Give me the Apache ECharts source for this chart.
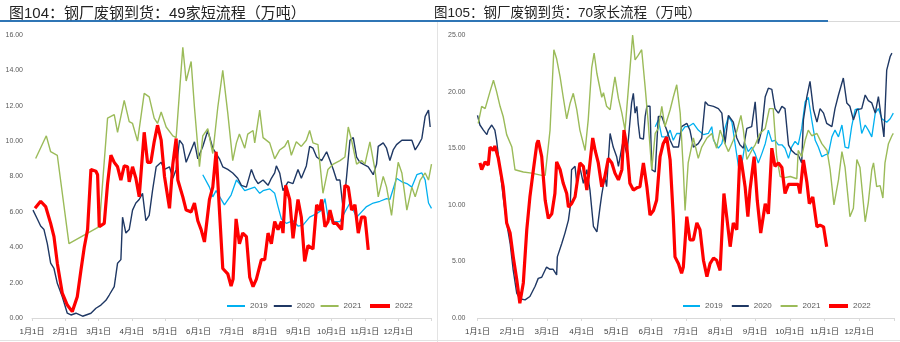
<!DOCTYPE html>
<html>
<head>
<meta charset="utf-8">
<script src="https://cdn.jsdelivr.net/npm/echarts@6/dist/echarts.min.js"></script>
<style>
html,body{margin:0;padding:0;background:#fff;}
#c{width:900px;height:342px;}
</style>
</head>
<body>
<div id="c"></div>
<script>
// x values are fractional months since Jan 1 (0 = 1月1日, 1 = 2月1日, ...)
const monthLabels = ['1月1日','2月1日','3月1日','4月1日','5月1日','6月1日','7月1日','8月1日','9月1日','10月1日','11月1日','12月1日'];
const seriesNames = ['2019','2020','2021','2022'];
const leftTicks = [0,2,4,6,8,10,12,14,16];
const rightTicks = [0,5,10,15,20,25];
const titleLeft = '图104：钢厂废钢到货：49家短流程（万吨）';
const titleRight = '图105：钢厂废钢到货：70家长流程（万吨）';

// ---- Left: 49 short-process mills ----
const left2019 = [[5.13,8.1],[5.33,7.4],[5.43,6.85],[5.53,7.2],[5.78,6.4],[5.98,6.95],[6.14,7.8],[6.23,7.6],[6.39,7.2],[6.54,7.3],[6.69,7.4],[6.84,7.05],[6.94,7.2],[7.14,7.3],[7.29,7.05],[7.39,6.3],[7.49,5.6],[7.64,5.35],[7.84,5.5],[7.99,5.2],[8.14,5.25],[8.34,5.7],[8.55,5.9],[8.70,6.1],[8.80,6.75],[8.89,5.7],[9.05,5.45],[9.25,5.45],[9.40,6.0],[9.55,6.5],[9.75,5.7],[9.90,6.0],[10.05,6.3],[10.25,6.5],[10.45,6.6],[10.65,6.75],[10.75,6.7],[10.95,7.9],[11.11,7.7],[11.26,7.6],[11.41,7.4],[11.56,8.1],[11.71,8.2],[11.81,7.8],[11.91,6.5],[12.0,6.2]];
const left2020 = [[0.03,6.1],[0.16,5.6],[0.26,5.2],[0.36,5.0],[0.46,4.2],[0.56,3.1],[0.66,2.8],[0.76,1.96],[0.91,1.2],[1.06,0.27],[1.17,0.17],[1.32,0.27],[1.52,0.1],[1.77,0.27],[1.92,0.55],[2.07,0.73],[2.22,1.0],[2.32,1.3],[2.47,1.77],[2.57,3.1],[2.67,3.3],[2.72,5.7],[2.82,4.8],[2.92,5.0],[3.02,6.1],[3.12,6.5],[3.22,6.7],[3.32,7.05],[3.42,5.5],[3.52,5.8],[3.62,7.2],[3.73,8.55],[3.88,8.8],[3.98,8.4],[4.13,8.55],[4.23,7.9],[4.33,8.4],[4.43,10.05],[4.53,9.8],[4.63,8.8],[4.78,9.5],[4.88,9.96],[4.98,9.0],[5.13,9.7],[5.28,10.6],[5.43,9.6],[5.63,9.0],[5.73,8.55],[5.88,8.4],[6.03,8.2],[6.18,7.9],[6.29,7.5],[6.44,7.4],[6.59,8.4],[6.69,7.9],[6.79,7.6],[6.94,7.8],[7.09,7.5],[7.19,7.9],[7.29,8.2],[7.34,8.6],[7.44,8.2],[7.54,7.2],[7.69,7.7],[7.84,7.6],[7.99,8.4],[8.09,7.9],[8.24,8.6],[8.34,9.7],[8.44,9.6],[8.55,9.1],[8.70,8.9],[8.85,9.4],[8.95,8.9],[9.05,8.4],[9.15,7.8],[9.25,7.8],[9.35,6.1],[9.45,8.0],[9.55,10.05],[9.65,10.2],[9.75,9.1],[9.85,8.8],[9.95,8.7],[10.10,8.55],[10.25,8.1],[10.35,8.7],[10.40,9.7],[10.55,9.9],[10.65,9.6],[10.75,8.9],[10.85,9.5],[10.95,9.8],[11.11,10.05],[11.26,10.05],[11.41,10.05],[11.51,9.5],[11.61,9.8],[11.71,10.15],[11.81,11.4],[11.91,11.75],[11.96,10.8]];
const left2021 = [[0.11,9.02],[0.43,10.3],[0.56,9.4],[0.76,9.2],[1.11,4.2],[2.02,5.16],[2.27,11.3],[2.47,11.5],[2.57,10.5],[2.77,12.3],[2.92,11.1],[3.02,11.0],[3.17,10.0],[3.37,12.7],[3.52,12.5],[3.67,11.3],[3.77,11.0],[3.88,11.65],[4.03,10.8],[4.23,10.3],[4.33,10.2],[4.53,15.3],[4.63,13.4],[4.78,14.5],[4.88,11.9],[5.03,8.55],[5.13,10.3],[5.28,10.7],[5.43,9.3],[5.58,11.9],[5.73,14.0],[5.88,11.6],[6.03,8.9],[6.14,9.9],[6.23,10.4],[6.39,9.6],[6.48,10.4],[6.64,10.6],[6.69,9.9],[6.84,11.75],[6.94,10.2],[7.14,9.9],[7.29,9.0],[7.44,9.5],[7.59,9.7],[7.69,10.05],[7.79,9.2],[7.94,9.96],[8.09,9.7],[8.24,10.05],[8.34,10.6],[8.44,9.9],[8.59,9.8],[8.74,7.05],[8.89,8.4],[9.05,8.7],[9.25,8.9],[9.40,9.1],[9.50,10.8],[9.60,10.05],[9.75,8.7],[9.90,8.9],[10.0,8.7],[10.15,9.96],[10.30,8.4],[10.40,6.85],[10.55,8.0],[10.65,7.4],[10.80,5.8],[10.90,7.4],[11.0,8.8],[11.11,8.2],[11.26,6.1],[11.41,7.4],[11.51,6.85],[11.66,7.8],[11.81,8.2],[11.91,7.8],[12.0,8.7]];
const left2022 = [[0.09,6.2],[0.26,6.6],[0.41,6.3],[0.56,5.35],[0.66,4.6],[0.76,3.1],[0.91,1.4],[1.06,0.73],[1.21,0.36],[1.36,1.2],[1.47,2.7],[1.57,4.0],[1.67,5.0],[1.77,8.4],[1.92,8.3],[1.97,8.1],[2.02,5.16],[2.17,5.35],[2.27,7.6],[2.37,9.2],[2.47,8.8],[2.57,8.55],[2.67,7.8],[2.77,8.6],[2.87,8.55],[2.92,7.7],[3.02,8.55],[3.12,7.9],[3.22,6.85],[3.37,10.5],[3.47,8.8],[3.57,8.8],[3.67,9.96],[3.77,10.9],[3.88,10.05],[3.98,8.0],[4.13,6.2],[4.23,8.7],[4.33,10.15],[4.38,7.8],[4.53,6.85],[4.63,6.1],[4.78,6.0],[4.88,6.5],[4.98,5.5],[5.08,5.0],[5.18,4.3],[5.33,6.7],[5.43,7.4],[5.53,9.4],[5.63,6.1],[5.73,2.8],[5.88,2.5],[5.98,1.8],[6.04,2.2],[6.13,5.6],[6.23,4.2],[6.33,4.8],[6.44,4.6],[6.54,2.3],[6.64,1.77],[6.74,2.2],[6.89,3.3],[6.99,3.3],[7.09,4.8],[7.19,4.2],[7.29,5.45],[7.39,5.0],[7.49,5.45],[7.54,4.8],[7.62,7.5],[7.74,6.7],[7.84,4.5],[7.99,6.7],[8.09,5.7],[8.19,3.2],[8.29,4.1],[8.44,3.9],[8.55,6.4],[8.64,6.1],[8.70,6.7],[8.80,5.16],[8.89,5.45],[8.95,6.1],[9.05,5.35],[9.15,5.35],[9.30,5.0],[9.40,7.5],[9.50,7.4],[9.60,6.1],[9.70,6.4],[9.80,4.8],[9.90,5.7],[10.0,5.7],[10.05,4.8],[10.10,3.85]];

// ---- Right: 70 long-process mills ----
const right2019 = [[5.12,16.9],[5.21,17.5],[5.31,16.0],[5.45,16.0],[5.55,16.6],[5.64,15.7],[5.74,16.3],[5.84,16.3],[5.98,16.9],[6.07,16.9],[6.22,17.2],[6.36,16.6],[6.51,16.2],[6.65,16.3],[6.75,16.9],[6.80,15.7],[6.94,15.0],[7.04,15.4],[7.13,16.75],[7.23,17.8],[7.33,17.3],[7.42,15.4],[7.52,13.4],[7.61,13.5],[7.71,15.4],[7.80,14.7],[7.90,15.1],[8.00,14.5],[8.09,13.7],[8.19,14.5],[8.29,15.4],[8.38,16.6],[8.48,15.6],[8.57,15.7],[8.67,15.3],[8.77,15.3],[8.86,15.0],[8.96,14.1],[9.05,15.1],[9.15,15.6],[9.24,15.3],[9.34,16.75],[9.44,19.1],[9.53,19.5],[9.63,17.5],[9.73,15.7],[9.82,15.1],[9.92,14.25],[10.01,14.4],[10.11,14.5],[10.21,16.0],[10.30,16.6],[10.40,16.0],[10.50,17.05],[10.59,15.1],[10.69,15.0],[10.78,16.9],[10.88,18.4],[10.97,18.5],[11.07,16.3],[11.17,17.05],[11.26,16.6],[11.36,16.0],[11.46,18.1],[11.55,18.5],[11.65,17.6],[11.79,17.3],[11.89,17.6],[11.98,18.1]];
const right2020 = [[0.0,17.9],[0.07,17.05],[0.17,16.6],[0.27,16.2],[0.31,16.6],[0.41,17.05],[0.50,16.6],[0.55,15.7],[0.65,13.1],[0.74,10.7],[0.84,8.4],[0.94,6.6],[1.03,4.2],[1.13,2.2],[1.22,1.7],[1.37,1.6],[1.51,1.9],[1.66,2.8],[1.75,3.5],[1.85,3.6],[1.99,4.5],[2.09,4.3],[2.18,4.3],[2.28,3.8],[2.30,5.4],[2.43,6.6],[2.52,7.5],[2.62,8.65],[2.67,9.8],[2.71,13.1],[2.81,13.4],[2.86,11.9],[2.95,13.3],[3.05,11.9],[3.15,13.1],[3.24,11.3],[3.34,8.1],[3.44,7.6],[3.53,9.8],[3.58,10.9],[3.67,12.5],[3.72,11.6],[3.82,16.3],[3.91,15.1],[4.01,14.25],[4.06,13.4],[4.16,15.1],[4.20,15.7],[4.30,14.5],[4.35,15.9],[4.44,19.0],[4.49,19.85],[4.54,18.1],[4.59,18.7],[4.63,17.2],[4.68,15.9],[4.78,15.8],[4.83,17.8],[4.88,18.7],[4.97,18.7],[5.02,13.1],[5.12,12.9],[5.21,17.8],[5.31,17.8],[5.45,16.6],[5.55,15.7],[5.64,15.1],[5.79,15.1],[5.88,16.9],[6.03,17.2],[6.12,16.6],[6.22,15.1],[6.36,15.4],[6.46,15.9],[6.56,19.1],[6.65,18.8],[6.80,18.7],[6.94,18.5],[7.04,18.1],[7.13,15.4],[7.23,17.9],[7.37,17.3],[7.47,15.9],[7.56,15.3],[7.66,15.0],[7.76,16.75],[7.90,16.9],[8.00,19.1],[8.09,15.4],[8.19,16.6],[8.29,19.55],[8.38,20.3],[8.48,20.2],[8.57,18.5],[8.67,18.1],[8.77,18.7],[8.86,18.5],[8.96,15.3],[9.05,14.8],[9.15,14.5],[9.24,14.4],[9.34,13.7],[9.39,17.5],[9.49,19.55],[9.58,20.9],[9.68,18.4],[9.78,17.3],[9.87,18.5],[9.97,18.1],[10.06,17.2],[10.21,16.9],[10.30,18.5],[10.40,19.7],[10.54,21.2],[10.64,19.0],[10.73,18.7],[10.83,17.5],[10.93,18.4],[11.07,18.5],[11.17,19.7],[11.26,19.2],[11.36,19.0],[11.46,18.1],[11.55,19.55],[11.63,17.8],[11.71,16.0],[11.79,21.9],[11.89,23.1],[11.94,23.4]];
const right2021 = [[0.02,17.2],[0.12,18.7],[0.22,18.5],[0.36,20.0],[0.46,21.0],[0.55,20.0],[0.65,18.7],[0.74,17.8],[0.84,16.2],[0.99,15.1],[1.08,13.1],[1.32,12.9],[1.56,12.8],[1.85,12.6],[1.95,12.6],[2.09,16.6],[2.20,23.7],[2.28,22.9],[2.38,21.3],[2.47,19.5],[2.57,17.6],[2.67,19.0],[2.76,19.85],[2.86,18.4],[2.95,16.6],[3.10,14.8],[3.19,17.5],[3.29,22.1],[3.36,23.4],[3.44,21.6],[3.58,19.5],[3.63,19.9],[3.72,18.7],[3.82,18.4],[3.91,20.3],[3.96,21.3],[4.06,19.4],[4.16,18.1],[4.25,16.6],[4.39,21.9],[4.47,25.0],[4.54,22.8],[4.63,23.2],[4.73,23.7],[4.83,20.4],[4.92,17.2],[5.02,13.1],[5.12,16.3],[5.21,16.75],[5.31,18.7],[5.40,16.9],[5.55,18.4],[5.64,19.5],[5.74,20.6],[5.84,18.1],[5.93,13.1],[5.98,9.5],[6.07,13.7],[6.22,15.9],[6.36,14.1],[6.46,15.1],[6.61,15.9],[6.75,16.3],[6.89,15.0],[6.99,16.6],[7.13,15.4],[7.23,14.7],[7.37,15.7],[7.47,16.5],[7.59,17.9],[7.66,16.6],[7.76,14.0],[7.90,14.8],[8.00,15.3],[8.14,16.3],[8.29,16.75],[8.41,18.5],[8.52,18.5],[8.62,14.25],[8.72,12.5],[8.86,12.4],[9.01,12.5],[9.20,12.3],[9.24,14.8],[9.34,14.25],[9.44,15.7],[9.53,16.6],[9.63,16.1],[9.78,16.3],[9.92,15.4],[10.07,14.8],[10.16,13.1],[10.27,10.0],[10.40,12.2],[10.50,14.7],[10.59,13.3],[10.73,8.95],[10.83,9.7],[10.93,14.0],[11.02,13.3],[11.17,8.5],[11.26,10.2],[11.36,13.1],[11.41,13.7],[11.50,11.6],[11.60,11.7],[11.68,10.6],[11.74,13.7],[11.84,15.4],[11.94,16.1],[11.98,16.3]];
const right2022 = [[0.07,13.7],[0.12,13.1],[0.22,13.8],[0.31,13.5],[0.36,15.1],[0.46,14.8],[0.50,15.2],[0.60,14.1],[0.65,14.25],[0.74,11.6],[0.84,8.4],[0.94,7.5],[1.03,5.4],[1.13,3.4],[1.22,1.3],[1.32,3.1],[1.42,7.8],[1.51,10.7],[1.61,13.1],[1.71,15.4],[1.75,15.7],[1.85,14.25],[1.95,10.4],[2.04,8.8],[2.14,9.2],[2.23,11.0],[2.28,13.8],[2.38,13.1],[2.47,11.9],[2.57,11.0],[2.62,9.8],[2.71,10.1],[2.81,10.7],[2.86,10.8],[2.95,13.7],[3.05,13.4],[3.15,11.3],[3.24,13.7],[3.32,15.9],[3.39,14.8],[3.48,13.7],[3.58,11.6],[3.67,12.5],[3.77,14.1],[3.87,13.7],[3.96,12.8],[4.06,12.2],[4.16,13.1],[4.22,16.6],[4.30,15.2],[4.39,11.9],[4.49,11.3],[4.59,11.5],[4.68,11.6],[4.78,13.7],[4.88,11.6],[4.97,9.1],[5.07,9.5],[5.16,10.4],[5.26,14.25],[5.35,15.4],[5.45,16.0],[5.55,13.96],[5.64,8.95],[5.69,5.4],[5.79,4.8],[5.88,3.95],[5.93,4.5],[6.03,8.95],[6.12,6.9],[6.22,6.9],[6.32,8.4],[6.41,7.8],[6.51,5.1],[6.61,3.65],[6.70,4.8],[6.80,5.3],[6.89,5.1],[6.99,4.2],[7.10,11.0],[7.18,8.95],[7.28,6.3],[7.37,8.4],[7.47,7.8],[7.56,14.4],[7.61,13.7],[7.71,11.6],[7.79,8.95],[7.85,11.3],[7.97,14.25],[8.06,10.4],[8.16,7.5],[8.29,10.1],[8.38,9.2],[8.48,15.0],[8.57,13.4],[8.67,13.7],[8.77,13.3],[8.86,11.0],[8.96,11.8],[9.10,11.8],[9.24,11.8],[9.29,11.0],[9.39,13.96],[9.49,12.0],[9.56,10.1],[9.66,10.7],[9.78,8.05],[9.87,8.2],[9.97,8.05],[10.06,6.3]];

const leftData = [left2019, left2020, left2021, left2022];
const rightData = [right2019, right2020, right2021, right2022];
const colors = ['#00B0F0', '#1F3864', '#9BBB59', '#FF0000'];
const widths = [1.3, 1.4, 1.4, 3.2];

const FONT = "'Liberation Sans','Noto Sans CJK SC',sans-serif";
const chart = echarts.init(document.getElementById('c'), null, {renderer: 'canvas'});

function xAxis(gi) {
  return {
    type: 'value', gridIndex: gi, min: 0, max: 12, interval: 1,
    axisLine: {show: true, lineStyle: {color: '#d9d9d9', width: 1}},
    axisTick: {show: true, length: 3, lineStyle: {color: '#d9d9d9'}},
    splitLine: {show: false},
    axisLabel: {
      fontSize: 8, color: '#404040', fontFamily: FONT, margin: 10,
      formatter: v => (v < 12 ? monthLabels[v] : '')
    }
  };
}
function yAxis(gi, ticks, margin) {
  return {
    type: 'value', gridIndex: gi, min: ticks[0], max: ticks[ticks.length - 1],
    interval: ticks[1] - ticks[0],
    axisLine: {show: false}, axisTick: {show: false}, splitLine: {show: false},
    axisLabel: {fontSize: 7, color: '#595959', fontFamily: FONT, margin: margin,
      formatter: v => v.toFixed(2)}
  };
}

const series = [];
[leftData, rightData].forEach((set, gi) => {
  set.forEach((d, i) => {
    series.push({
      name: seriesNames[i], type: 'line', xAxisIndex: gi, yAxisIndex: gi,
      data: d, symbol: 'none', showSymbol: false, smooth: false,
      lineStyle: {color: colors[i], width: widths[i]},
      itemStyle: {color: colors[i]},
      z: 2 + i, animation: false
    });
  });
});

function legendItems(names) {
  return names.map(n => {
    const i = seriesNames.indexOf(n);
    return {name: n, icon: 'rect', itemStyle: {color: colors[i]}};
  });
}
const legendText = {fontSize: 8, color: '#595959', fontFamily: FONT};

chart.setOption({
  animation: false,
  backgroundColor: '#ffffff',
  title: [
    {text: titleLeft, left: 4, top: 1, textStyle: {fontSize: 15, fontWeight: 'normal', color: '#222', fontFamily: FONT}},
    {text: titleRight, left: 429, top: 2, textStyle: {fontSize: 13.5, fontWeight: 'normal', color: '#222', fontFamily: FONT}}
  ],
  grid: [
    {left: 32, right: 468.5, top: 35, bottom: 24},
    {left: 477.5, right: 6, top: 35, bottom: 24}
  ],
  xAxis: [xAxis(0), xAxis(1)],
  yAxis: [yAxis(0, leftTicks, 9), yAxis(1, rightTicks, 12)],
  legend: [
    {data: legendItems(['2019','2020','2021']), left: 222, top: 297, itemWidth: 18, itemHeight: 2, itemGap: 6, textStyle: legendText},
    {data: legendItems(['2022']), left: 365, top: 297, itemWidth: 20, itemHeight: 4, textStyle: legendText},
    {data: legendItems(['2019','2020','2021']), left: 678, top: 297, itemWidth: 17, itemHeight: 2, itemGap: 9, textStyle: legendText},
    {data: legendItems(['2022']), left: 824, top: 297, itemWidth: 19, itemHeight: 4, textStyle: legendText}
  ],
  graphic: [
    {type: 'rect', shape: {x: 0, y: 20, width: 828, height: 2}, style: {fill: '#2F75B5'}, silent: true},
    {type: 'line', shape: {x1: 828, y1: 21.5, x2: 900, y2: 21.5}, style: {stroke: '#d9d9d9', lineWidth: 1}, silent: true},
    {type: 'line', shape: {x1: 437.5, y1: 22, x2: 437.5, y2: 342}, style: {stroke: '#e3e3e3', lineWidth: 1}, silent: true},
    {type: 'line', shape: {x1: 0, y1: 340.5, x2: 900, y2: 340.5}, style: {stroke: '#e3e3e3', lineWidth: 1}, silent: true}
  ],
  series: series
});
</script>
</body>
</html>
